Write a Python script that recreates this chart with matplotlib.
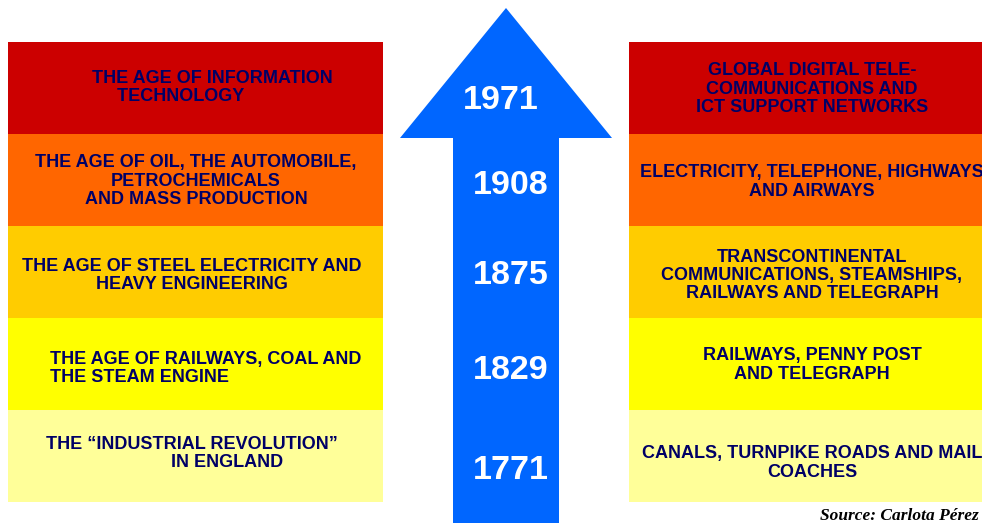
import matplotlib.pyplot as plt
from matplotlib.patches import Polygon

# Data (top row first)
years = ["1971", "1908", "1875", "1829", "1771"]
ages = [
    ["THE AGE OF INFORMATION", "     TECHNOLOGY"],
    ["THE AGE OF OIL, THE AUTOMOBILE,", "PETROCHEMICALS", "AND MASS PRODUCTION"],
    ["THE AGE OF STEEL ELECTRICITY AND", "HEAVY ENGINEERING"],
    ["THE AGE OF RAILWAYS, COAL AND", "THE STEAM ENGINE"],
    ["THE \u201cINDUSTRIAL REVOLUTION\u201d", "                         IN ENGLAND"],
]
infrastructure = [
    ["GLOBAL DIGITAL TELE-", "COMMUNICATIONS AND", "ICT SUPPORT NETWORKS"],
    ["ELECTRICITY, TELEPHONE, HIGHWAYS", "AND AIRWAYS"],
    ["TRANSCONTINENTAL", "COMMUNICATIONS, STEAMSHIPS,", "RAILWAYS AND TELEGRAPH"],
    ["RAILWAYS, PENNY POST", "AND TELEGRAPH"],
    ["CANALS, TURNPIKE ROADS AND MAIL", "COACHES"],
]
source = "Source: Carlota P\u00e9rez"

# Styling / layout
colors = ["#CC0000", "#FF6600", "#FFCC00", "#FFFF00", "#FFFF99"]
navy = "#000066"
blue = "#0066FF"
row_top, row_h = 42, 92
line_h = 18.5

left_x = [92, 196, 192, 50, 46]
left_ha = ["left", "center", "center", "left", "left"]
left_y = [85.5, 179, 273.5, 366.5, 451.5]
right_y = [87, 180, 273.5, 363, 461]
year_xy = [(501, 97), (511, 182), (511, 272), (511, 367), (511, 467)]

fig = plt.figure(figsize=(9.82, 5.23), dpi=100)
ax = fig.add_axes([0, 0, 1, 1])
ax.set_xlim(0, 982)
ax.set_ylim(523, 0)
ax.axis("off")

tops = [row_top + i * row_h for i in range(len(years))]
# left and right coloured bands
ax.bar([195.5] * len(years), [row_h] * len(years), width=375, bottom=tops,
       color=colors, align="center", linewidth=0)
ax.bar([805.5] * len(years), [row_h] * len(years), width=353, bottom=tops,
       color=colors, align="center", linewidth=0)

# arrow
arrow = Polygon([(506, 8), (612, 138), (559, 138), (559, 530), (453, 530),
                 (453, 138), (400, 138)], closed=True, color=blue, lw=0)
ax.add_patch(arrow)

font = dict(family="Liberation Sans", weight="bold", fontsize=13, color=navy)

def put_lines(lines, x, yc, ha):
    n = len(lines)
    for j, line in enumerate(lines):
        y = yc - (n - 1) / 2 * line_h + j * line_h + 6.5
        ax.text(x, y, line, ha=ha, va="baseline", **font)

for i in range(len(years)):
    put_lines(ages[i], left_x[i], left_y[i], left_ha[i])
    put_lines(infrastructure[i], 812, right_y[i], "center")
    x, y = year_xy[i]
    ax.text(x, y + 12, years[i], ha="center", va="baseline", color="white",
            family="Liberation Sans", weight="bold", fontsize=24.5)

# source note, kept just inside the bottom-right corner
ax.text(979, 520, source, ha="right", va="baseline", family="Liberation Serif",
        weight="bold", style="italic", fontsize=12.5, color="black")

fig.savefig("out.png", dpi=100)
